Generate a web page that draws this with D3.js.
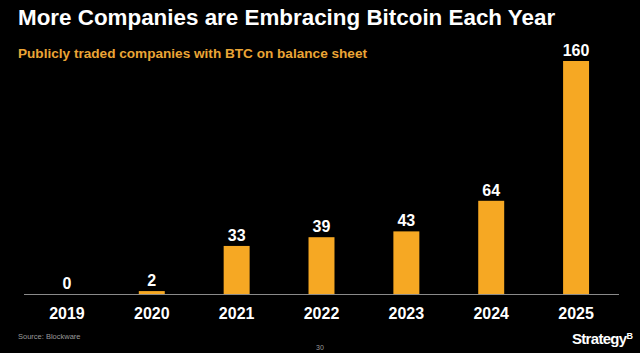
<!DOCTYPE html>
<html>
<head>
<meta charset="utf-8">
<script src="https://cdn.jsdelivr.net/npm/d3@7"></script>
<style>
  html, body { margin: 0; padding: 0; background: #000; }
  svg { display: block; font-family: "Liberation Sans", Arial, sans-serif; }
</style>
</head>
<body>
<div id="chart"></div>
<script>
const years = ["2019", "2020", "2021", "2022", "2023", "2024", "2025"];
const companies = [0, 2, 33, 39, 43, 64, 160];

const width = 640;
const height = 353;
const baseline = 294;

const svg = d3.select("#chart")
    .append("svg")
    .attr("width", width)
    .attr("height", height);

svg.append("rect")
    .attr("width", width)
    .attr("height", height)
    .attr("fill", "#000");

// Title
svg.append("text")
    .attr("x", 18)
    .attr("y", 25)
    .attr("fill", "#fff")
    .attr("font-size", 22.4)
    .attr("font-weight", "bold")
    .text("More Companies are Embracing Bitcoin Each Year");

svg.append("text")
    .attr("x", 18)
    .attr("y", 58)
    .attr("fill", "#eba536")
    .attr("font-size", 13.6)
    .attr("font-weight", "bold")
    .text("Publicly traded companies with BTC on balance sheet");

// Scales
const x = d3.scaleBand()
    .domain(years)
    .range([24.5, 618.5])
    .paddingInner(0.694)
    .paddingOuter(0.347);

const y = d3.scaleLinear()
    .domain([0, 160])
    .range([baseline, 61]);

// Bars
svg.append("g")
    .selectAll("rect")
    .data(companies)
    .join("rect")
    .attr("x", (d, i) => x(years[i]))
    .attr("y", d => y(d))
    .attr("width", x.bandwidth())
    .attr("height", d => baseline - y(d))
    .attr("fill", "#f6a823");

// Value labels
svg.append("g")
    .selectAll("text")
    .data(companies)
    .join("text")
    .attr("x", (d, i) => x(years[i]) + x.bandwidth() / 2)
    .attr("y", d => y(d) - 5)
    .attr("text-anchor", "middle")
    .attr("fill", "#fff")
    .attr("font-size", 16)
    .attr("font-weight", "bold")
    .text(d => d);

// Baseline
svg.append("line")
    .attr("x1", 24)
    .attr("x2", 619)
    .attr("y1", baseline + 0.5)
    .attr("y2", baseline + 0.5)
    .attr("stroke", "#8a8a8a")
    .attr("stroke-width", 1);

// Year axis
const xAxis = svg.append("g")
    .attr("transform", `translate(0, ${baseline})`)
    .call(d3.axisBottom(x).tickSize(0).tickPadding(0));
xAxis.select(".domain").remove();
xAxis.selectAll("text")
    .attr("dy", null)
    .attr("y", 25)
    .attr("fill", "#fff")
    .attr("font-size", 16)
    .attr("font-weight", "bold")
    .attr("font-family", "Liberation Sans, Arial, sans-serif");

// Footer
svg.append("text")
    .attr("x", 18)
    .attr("y", 339)
    .attr("fill", "#9a9a9a")
    .attr("font-size", 7.5)
    .text("Source: Blockware");

svg.append("text")
    .attr("x", 320)
    .attr("y", 350)
    .attr("text-anchor", "middle")
    .attr("fill", "#9a9a9a")
    .attr("font-size", 7)
    .text("30");

const logo = svg.append("text")
    .attr("x", 572)
    .attr("y", 344)
    .attr("fill", "#fff")
    .attr("font-size", 15)
    .attr("font-weight", "bold")
    .attr("letter-spacing", -0.7)
    .text("Strategy");
logo.append("tspan")
    .attr("dy", -5)
    .attr("font-size", 9)
    .text("B");
</script>
</body>
</html>
